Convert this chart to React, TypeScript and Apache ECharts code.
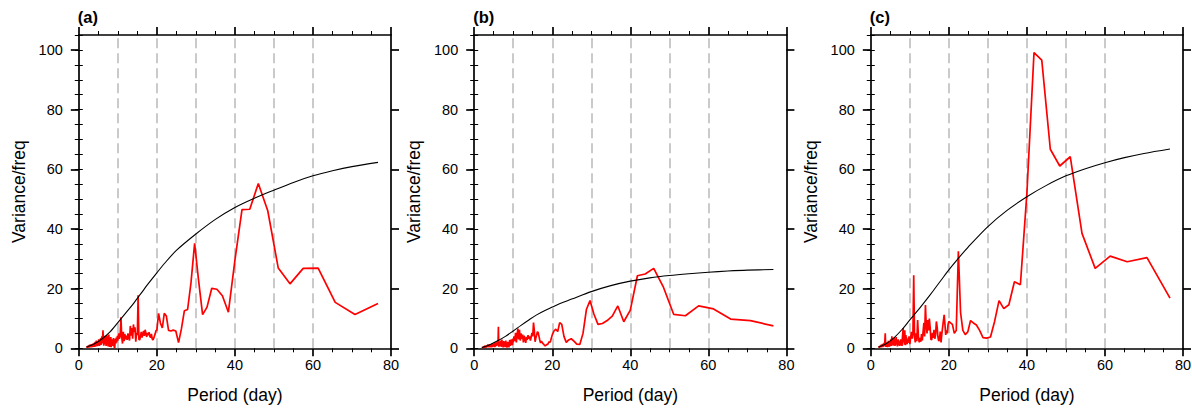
import React, { useEffect, useRef } from "react";
import * as echarts from "echarts";

// Periods (day) of the spectral estimates
const lowPeriods = [
  2.0, 2.1, 2.2, 2.3, 2.4, 2.5, 2.6, 2.7, 2.8, 2.9,
  3.0, 3.1, 3.2, 3.3, 3.4, 3.5, 3.6, 3.7, 3.8, 3.9,
  4.0, 4.1, 4.2, 4.3, 4.4, 4.5, 4.6, 4.7, 4.8, 4.9,
  5.0, 5.1, 5.2, 5.3, 5.4, 5.5, 5.6, 5.7, 5.8, 5.9,
  6.0, 6.1, 6.2, 6.3, 6.4, 6.5, 6.6, 6.7, 6.8, 6.9,
  7.0, 7.1, 7.2, 7.3, 7.4, 7.5, 7.6, 7.7, 7.8, 7.9,
  8.0, 8.1, 8.2, 8.3, 8.4, 8.5, 8.6, 8.7, 8.8, 8.9,
  9.0, 9.1, 9.2, 9.3, 9.4, 9.5, 9.6, 9.7, 9.8, 9.9,
  10.0, 10.2, 10.4, 10.6, 10.8, 11.0, 11.2, 11.4, 11.6, 11.8,
  12.0, 12.2, 12.4, 12.6, 12.8, 13.0, 13.2, 13.4, 13.6, 13.8,
  14.0, 14.2, 14.4, 14.6, 14.8, 15.0, 15.2, 15.4, 15.6, 15.8,
  16.0, 16.2, 16.4, 16.6, 16.8, 17.0, 17.2, 17.4, 17.6, 17.8,
  18.0, 18.2, 18.4, 18.6, 18.8, 19.0, 19.2, 19.4, 19.6, 19.8,
];
const highPeriods = [
  20.0, 20.44, 20.91, 21.4, 21.9, 22.44, 23.0, 23.59, 24.21, 24.86,
  25.56, 26.29, 27.06, 27.88, 28.75, 29.68, 30.67, 31.72, 32.86, 34.07,
  35.38, 36.8, 38.33, 40.0, 41.82, 43.81, 46.0, 48.42, 51.11, 54.12,
  57.5, 61.33, 65.71, 70.77, 76.67,
];

// Panel (a) spectrum
const redALow = [
  0.3, 0.5, 0.2, 0.8, 0.4, 1.0, 0.3, 0.7, 1.2, 0.5,
  0.9, 0.3, 1.4, 0.6, 1.1, 0.4, 1.6, 0.8, 1.3, 0.5,
  1.8, 0.9, 2.2, 0.6, 1.5, 2.6, 1.0, 2.0, 0.7, 2.4,
  1.2, 3.0, 1.5, 0.8, 2.8, 1.8, 3.4, 1.1, 2.5, 4.0,
  1.6, 3.2, 6.0, 2.2, 0.9, 3.5, 2.0, 4.2, 1.3, 3.0,
  0.8, 2.6, 4.4, 1.5, 3.2, 0.6, 2.8, 4.6, 1.8, 0.5,
  2.5, 1.0, 3.8, 0.4, 2.2, 1.2, 3.0, 0.8, 2.0, 3.4,
  1.4, 0.3, 0.1, 1.8, 3.2, 1.6, 3.6, 2.0, 3.0, 4.2,
  2.6, 5.0, 3.2, 4.2, 10.4, 3.8, 1.6, 5.5, 2.4, 4.8,
  3.0, 4.2, 2.8, 5.0, 3.6, 2.6, 7.5, 4.2, 6.8, 3.2,
  8.0, 5.4, 7.0, 2.2, 5.2, 4.5, 17.8, 3.0, 2.8, 4.0,
  5.5, 3.6, 4.8, 5.8, 4.2, 6.2, 5.0, 3.8, 5.2, 4.4,
  5.4, 4.0, 3.6, 4.8, 3.2, 2.8, 3.4, 4.2, 5.0, 6.0,
];
const redAHigh = [
  6.0, 11.7, 8.5, 6.8, 11.7, 10.8, 6.0, 5.8, 6.1, 5.8,
  1.9, 6.5, 12.6, 13.0, 22.0, 35.2, 23.0, 11.3, 13.8, 20.1,
  19.8, 17.6, 12.1, 29.5, 46.5, 46.6, 55.2, 46.1, 26.9, 21.6,
  26.8, 26.9, 15.4, 11.3, 15.0,
];

// Panel (b) spectrum
const redBLow = [
  0.2, 0.4, 0.1, 0.5, 0.3, 0.7, 0.2, 0.5, 0.9, 0.3,
  0.6, 0.2, 1.0, 0.4, 0.8, 1.3, 0.5, 1.1, 0.3, 0.9,
  1.4, 0.6, 1.0, 0.3, 1.2, 0.7, 1.6, 0.4, 1.1, 0.6,
  1.5, 0.8, 1.9, 0.4, 1.2, 2.0, 0.7, 1.6, 0.9, 2.2,
  1.0, 1.2, 7.2, 0.8, 0.6, 2.0, 0.8, 1.6, 2.6, 0.5,
  1.2, 2.9, 0.7, 1.8, 0.3, 1.4, 2.4, 0.6, 1.9, 0.4,
  1.0, 2.6, 0.5, 1.5, 0.2, 1.2, 2.2, 0.6, 1.8, 0.3,
  1.4, 2.8, 0.8, 2.0, 1.1, 3.0, 1.6, 2.5, 1.0, 3.2,
  2.0, 4.0, 2.4, 5.2, 2.0, 4.6, 6.6, 3.0, 6.2, 2.6,
  5.0, 3.2, 4.6, 2.0, 4.2, 3.0, 1.8, 3.8, 2.8, 4.4,
  3.2, 4.0, 2.6, 3.8, 5.2, 4.0, 8.6, 6.0, 2.2, 3.5,
  4.4, 5.6, 5.2, 4.0, 2.8, 1.8, 2.4, 2.0, 1.6, 1.4,
  1.0, 0.8, 1.0, 1.4, 1.2, 1.7, 2.2, 2.0, 2.6, 3.5,
];
const redBHigh = [
  4.5, 5.8, 6.4, 5.6, 8.6, 8.0, 4.0, 2.0, 2.8, 3.2,
  2.4, 1.4, 1.3, 5.0, 13.0, 16.0, 11.5, 8.0, 8.3, 9.3,
  10.8, 14.2, 8.9, 12.8, 24.3, 24.9, 26.8, 20.7, 11.4, 10.9,
  14.2, 13.2, 9.8, 9.3, 7.5,
];

// Panel (c) spectrum
const redCLow = [
  0.3, 0.6, 0.2, 0.8, 0.4, 1.0, 0.3, 1.2, 0.5, 0.9,
  1.5, 0.4, 1.1, 0.6, 1.8, 0.7, 2.4, 5.0, 1.0, 0.5,
  1.6, 0.8, 2.0, 0.4, 1.4, 2.5, 0.9, 1.8, 0.5, 2.2,
  1.2, 3.0, 0.8, 2.0, 4.0, 1.5, 3.2, 0.9, 2.6, 1.4,
  3.6, 2.0, 0.8, 3.0, 1.6, 3.8, 1.2, 2.4, 0.6, 2.0,
  3.0, 1.0, 2.6, 1.8, 0.8, 2.2, 1.4, 3.0, 1.0, 2.0,
  0.8, 3.5, 5.2, 6.8, 2.0, 4.0, 1.2, 6.0, 3.2, 1.0,
  4.4, 2.2, 3.6, 1.4, 2.8, 1.8, 3.0, 2.4, 4.0, 3.0,
  1.4, 3.6, 5.5, 3.2, 5.0, 24.5, 4.0, 2.0, 5.0, 2.4,
  9.5, 4.0, 2.0, 3.5, 2.2, 4.8, 2.6, 5.6, 8.5, 4.0,
  14.5, 8.0, 5.0, 9.5, 6.0, 10.0, 7.0, 3.0, 2.8, 5.2,
  3.5, 6.2, 3.2, 4.5, 9.0, 7.2, 3.8, 2.4, 3.0, 5.6,
  2.0, 4.8, 7.0, 9.2, 11.2, 8.0, 4.5, 6.0, 5.0, 8.0,
];
const redCHigh = [
  9.0, 8.5, 8.0, 5.0, 6.0, 32.5, 12.0, 6.0, 4.6, 5.5,
  9.3, 8.5, 7.8, 6.0, 3.6, 3.4, 3.8, 9.0, 16.0, 13.3,
  14.6, 22.3, 21.3, 52.0, 99.1, 96.6, 66.7, 61.1, 64.2, 38.5,
  26.8, 30.9, 29.0, 30.4, 16.8,
];

// Theoretical red-noise spectra (black curves)
const blackPeriods = [2, 4, 6, 8, 10, 12, 14, 16, 18, 20, 22, 25, 30, 35, 40, 45, 50, 55, 60, 65, 70, 76.67];
const blackA = [0.4, 1.5, 3.2, 5.5, 8.6, 11.8, 15.0, 18.5, 22.0, 25.3, 28.5, 32.8, 38.3, 43.2, 47.2, 50.3, 53.0, 55.6, 57.8, 59.5, 60.9, 62.3];
const blackB = [0.3, 1.2, 2.5, 4.0, 5.8, 7.7, 9.5, 11.2, 12.6, 13.8, 15.0, 16.5, 19.0, 21.0, 22.5, 23.6, 24.4, 25.0, 25.5, 25.9, 26.2, 26.4];
const blackC = [0.4, 1.6, 3.6, 6.3, 9.5, 12.6, 15.9, 19.3, 22.8, 26.3, 29.5, 34.0, 40.8, 46.3, 50.8, 54.6, 57.8, 60.2, 62.2, 63.9, 65.3, 66.8];

const yTickValues = [0, 20, 40, 60, 80, 100];
const dashedPeriods = [10, 20, 30, 40, 50, 60];
const panelLabels = ["(a)", "(b)", "(c)"];
const xTitle = "Period (day)";
const yTitle = "Variance/freq";

export default function App() {
  const ref = useRef<HTMLDivElement>(null);

  useEffect(() => {
    document.body.style.margin = "0";
    const chart = echarts.init(ref.current!, null, { renderer: "svg" });
    const FONT = "Liberation Sans";
    const periods = [...lowPeriods, ...highPeriods];
    const panels = [
      { red: [...redALow, ...redAHigh], black: blackA, left: 78.8 },
      { red: [...redBLow, ...redBHigh], black: blackB, left: 474.2 },
      { red: [...redCLow, ...redCHigh], black: blackC, left: 870.8 },
    ];
    const W = 312.2;
    const TOP = 35;
    const H = 313.3;

    const axisLine = { show: true, onZero: false, lineStyle: { color: "#000", width: 1.7 } };
    const grids: any[] = [];
    const xAxes: any[] = [];
    const yAxes: any[] = [];
    const series: any[] = [];
    const graphics: any[] = [];

    panels.forEach((p, i) => {
      grids.push({ left: p.left, top: TOP, width: W, height: H, outerBoundsMode: "none", containLabel: false });
      const xBase = {
        type: "value",
        gridIndex: i,
        min: 0,
        max: 80,
        interval: 20,
        axisLine,
        axisTick: { show: true, length: 8, lineStyle: { color: "#000", width: 1.7 } },
        minorTick: { show: true, splitNumber: 4, length: 4, lineStyle: { color: "#000", width: 1 } },
        splitLine: { show: false },
        minorSplitLine: { show: false },
      };
      xAxes.push({
        ...xBase,
        position: "bottom",
        axisLabel: { color: "#000", fontSize: 14.5, fontFamily: FONT, margin: 9 },
        name: xTitle,
        nameLocation: "middle",
        nameGap: 38,
        nameTextStyle: { color: "#000", fontSize: 17.5, fontFamily: FONT },
      });
      xAxes.push({ ...xBase, position: "top", axisLabel: { show: false } });

      const yMajor = {
        type: "value",
        gridIndex: i,
        min: 0,
        max: 105,
        axisLine,
        axisTick: { show: true, length: 8, customValues: yTickValues, lineStyle: { color: "#000", width: 1.7 } },
        splitLine: { show: false },
      };
      const yMinor = {
        type: "value",
        gridIndex: i,
        min: 0,
        max: 105,
        interval: 5,
        axisLine: { show: false },
        axisTick: { show: true, length: 4, lineStyle: { color: "#000", width: 1 } },
        axisLabel: { show: false },
        splitLine: { show: false },
      };
      yAxes.push({
        ...yMajor,
        position: "left",
        axisLabel: { customValues: yTickValues, color: "#000", fontSize: 14.5, fontFamily: FONT, margin: 16 },
        name: yTitle,
        nameLocation: "middle",
        nameGap: 51,
        nameTextStyle: { color: "#000", fontSize: 17.5, fontFamily: FONT },
      });
      yAxes.push({ ...yMinor, position: "left" });
      yAxes.push({ ...yMajor, position: "right", axisLabel: { show: false } });
      yAxes.push({ ...yMinor, position: "right" });

      series.push({
        type: "line",
        xAxisIndex: i * 2,
        yAxisIndex: i * 4,
        data: periods.map((x, k) => [x, p.red[k]]),
        symbol: "none",
        silent: true,
        z: 3,
        lineStyle: { color: "#ff0000", width: 1.7 },
        markLine: {
          silent: true,
          z: 1,
          symbol: ["none", "none"],
          label: { show: false },
          lineStyle: { color: "#bdbdbd", type: [10, 5], width: 1.6 },
          data: dashedPeriods.map((v) => ({ xAxis: v })),
        },
      });
      series.push({
        type: "line",
        xAxisIndex: i * 2,
        yAxisIndex: i * 4,
        data: blackPeriods.map((x, k) => [x, p.black[k]]),
        symbol: "none",
        smooth: 0.3,
        silent: true,
        z: 4,
        lineStyle: { color: "#000", width: 1.1 },
      });

      graphics.push({
        type: "text",
        left: p.left - 1,
        top: 8,
        style: { text: panelLabels[i], font: `bold 16.5px "${FONT}"`, fill: "#000" },
      });
    });

    chart.setOption({
      animation: false,
      backgroundColor: "#fff",
      grid: grids,
      xAxis: xAxes,
      yAxis: yAxes,
      series,
      graphic: graphics,
    });
    return () => chart.dispose();
  }, []);

  return <div ref={ref} style={{ width: 1192, height: 409 }} />;
}
